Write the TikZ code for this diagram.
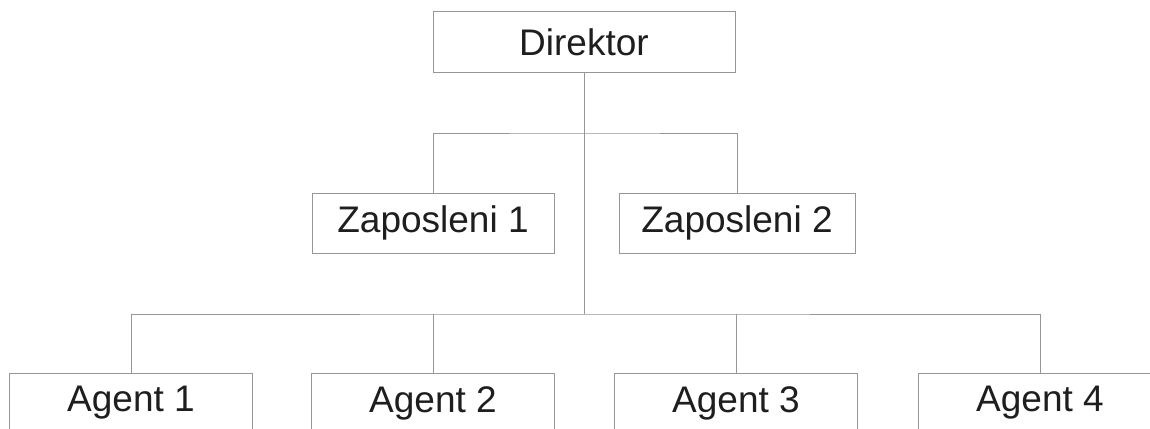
\documentclass[tikz,border=0pt]{standalone}
\usepackage{fontspec}
\setmainfont{Liberation Sans}
\definecolor{linegray}{RGB}{150,150,150}
\definecolor{textgray}{RGB}{30,30,30}
\tikzset{
  unit/.style={draw=linegray, line width=1pt, inner sep=0pt, minimum height=60pt,
    font=\fontsize{37}{44}\selectfont, text=textgray},
  link/.style={draw=linegray, line width=1pt},
}
\begin{document}
\begin{tikzpicture}[x=1pt,y=-1pt]
  \clip (0,0) rectangle (1150,428);
  \fill [white] (0,0) rectangle (1150,428);
  % boxes
  \node [unit, minimum width=302pt] (dir) at (584,42) {Direktor};
  \node [unit, minimum width=242pt] (zap1) at (433,223) {Zaposleni 1};
  \node [unit, minimum width=236pt] (zap2) at (737,223) {Zaposleni 2};
  \foreach \i/\x in {1/131,2/433,3/736,4/1040}
    \node [unit, minimum width=243pt] (ag\i) at (\x,403) {Agent \i};
  % junctions
  \coordinate (hub1) at (584,133);
  \coordinate (hub2) at (584,314);
  % connectors
  \draw [link] (dir.south) -- (hub2);
  \draw [link] (zap1.north) |- (hub1) -| (zap2.north);
  \draw [link] (ag1.north) |- (hub2) -| (ag4.north);
  \draw [link] (ag2.north) -- (ag2.north |- hub2);
  \draw [link] (ag3.north) -- (ag3.north |- hub2);
\end{tikzpicture}
\end{document}
